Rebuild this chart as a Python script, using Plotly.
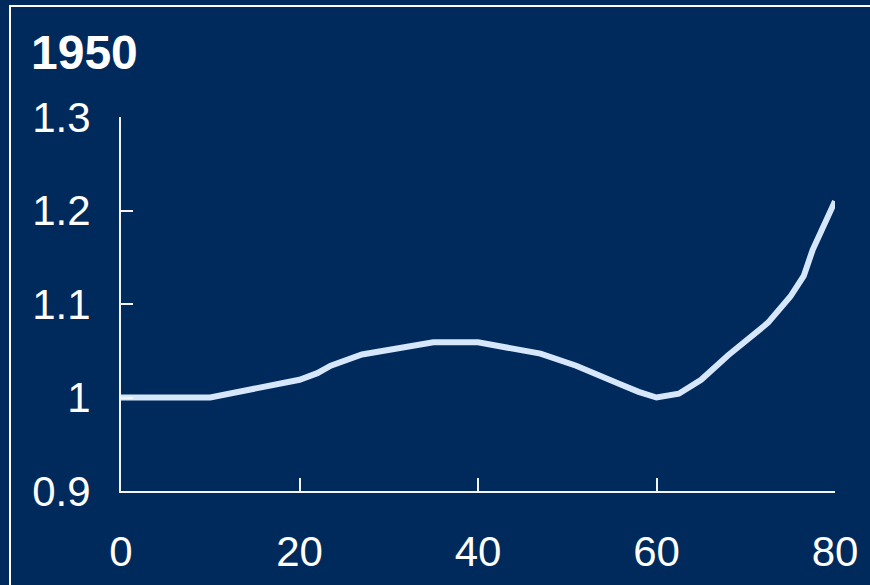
import plotly.graph_objects as go

# Ratio by age, 1950
ages = [0, 10, 20, 22, 23.5, 27, 35, 40, 47, 51, 56, 58, 60, 62.5, 65, 68, 72.5, 75, 76.5, 77.5, 80]
ratio = [1.0, 1.0, 1.019, 1.026, 1.034, 1.046, 1.059, 1.059, 1.047, 1.034, 1.014, 1.006, 1.0,
         1.004, 1.019, 1.045, 1.08, 1.108, 1.13, 1.158, 1.21]

x_ticks = [0, 20, 40, 60, 80]
y_ticks = [0.9, 1.0, 1.1, 1.2, 1.3]
y_tick_text = ["0.9", "1", "1.1", "1.2", "1.3"]
title_text = "1950"

BG = "#002A5C"
LINE = "#D6E7FB"
AXIS = "#F2F4F8"
FONT = "Liberation Sans, Arial, sans-serif"

W, H = 870, 585
ML, MR, MT, MB = 121, 35, 117, 94
pw, ph = W - ML - MR, H - MT - MB

fig = go.Figure(go.Scatter(
    x=ages, y=ratio, mode="lines",
    line=dict(color=LINE, width=6),
    hoverinfo="skip",
))

def px_x(p):
    return (p - ML) / pw

def px_y(p):
    return (H - MB - p) / ph

fig.update_layout(
    template="none",
    width=W, height=H,
    margin=dict(l=ML, r=MR, t=MT, b=MB),
    paper_bgcolor=BG, plot_bgcolor=BG,
    showlegend=False,
    font=dict(family=FONT, color="white", size=42),
    xaxis=dict(
        range=[0, 80], tickvals=x_ticks, ticktext=[str(v) for v in x_ticks],
        showgrid=False, zeroline=False, automargin=False,
        showline=True, linecolor=AXIS, linewidth=2,
        ticks="inside", ticklen=13, tickwidth=2, tickcolor=AXIS,
        tickfont=dict(size=42, color="white", family=FONT),
        ticklabelstandoff=23,
        fixedrange=True,
    ),
    yaxis=dict(
        range=[0.9, 1.3], tickvals=y_ticks, ticktext=y_tick_text,
        showgrid=False, zeroline=False, automargin=False,
        showline=True, linecolor=AXIS, linewidth=2,
        ticks="inside", ticklen=12, tickwidth=2, tickcolor=AXIS,
        tickfont=dict(size=42, color="white", family=FONT),
        ticklabelstandoff=20,
        fixedrange=True,
    ),
    annotations=[dict(
        text="<b>" + title_text + "</b>",
        xref="paper", yref="paper",
        x=px_x(29), y=px_y(24),
        xanchor="left", yanchor="top",
        showarrow=False,
        font=dict(size=48, color="white", family=FONT),
    )],
    shapes=[dict(
        type="rect", xref="paper", yref="paper",
        x0=px_x(10), x1=px_x(W + 20),
        y0=px_y(H + 20), y1=px_y(6),
        line=dict(color="white", width=2),
        fillcolor="rgba(0,0,0,0)",
        layer="below",
    )],
)

fig.write_html("out.html")
